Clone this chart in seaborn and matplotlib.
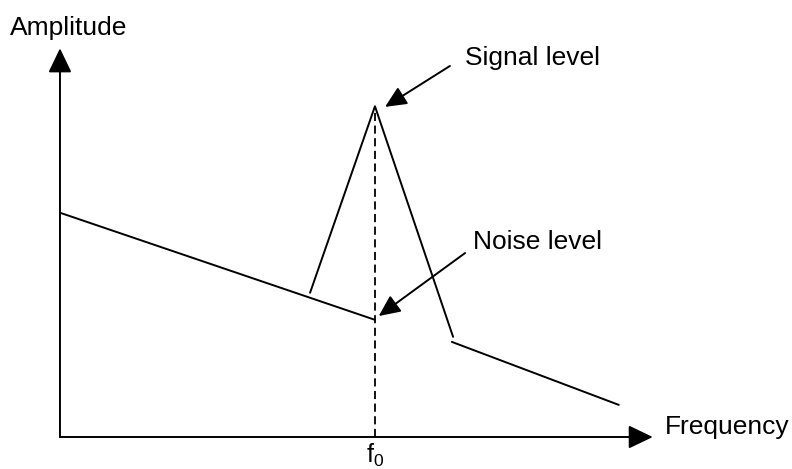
import matplotlib
matplotlib.use("Agg")
import matplotlib.pyplot as plt
import seaborn as sns
import pandas as pd

# spectrum sketch, values (arbitrary units)
noise_left_freq = [0.0, 5.0]
noise_left_amp = [3.56, 1.86]
peak_freq = [3.97, 5.0, 6.24]
peak_amp = [2.29, 5.25, 1.59]
noise_right_freq = [6.22, 8.87]
noise_right_amp = [1.51, 0.51]

f0 = 5.0
signal_level = 5.25
noise_level = 1.86
freq_axis_end = 9.41
amp_axis_end = 6.17

labels = {"x": "Frequency", "y": "Amplitude", "signal": "Signal level", "noise": "Noise level"}

rows = []
for name, fs, amps in [("noise_left", noise_left_freq, noise_left_amp),
                       ("peak", peak_freq, peak_amp),
                       ("noise_right", noise_right_freq, noise_right_amp)]:
    for f, a in zip(fs, amps):
        rows.append({"segment": name, "freq": f, "amp": a})
df = pd.DataFrame(rows)

sns.set_style("white")
plt.rcParams['font.family'] = ['Liberation Sans', 'DejaVu Sans']
plt.rcParams['text.color'] = 'black'
plt.rcParams['mathtext.fontset'] = 'custom'
plt.rcParams['mathtext.rm'] = 'Liberation Sans'

fig = plt.figure(figsize=(7.92, 4.69), dpi=100)
ax = fig.add_axes([0, 0, 1, 1])
ax.set_xlim(-0.952, 11.62)
ax.set_ylim(-0.508, 6.937)
ax.axis('off')

sns.lineplot(data=df, x="freq", y="amp", units="segment", estimator=None, sort=False,
             color="black", lw=1.4, ax=ax, legend=False)

# dashed marker at f0
ax.plot([f0, f0], [0, signal_level], color="black", lw=1.3, linestyle=(0, (4.5, 2.5)))

# axes with arrow heads
axis_arrow = dict(arrowstyle="-|>,head_length=0.75,head_width=0.36", color="black",
                  lw=1.4, mutation_scale=20, shrinkA=0, shrinkB=0)
ax.annotate("", xy=(freq_axis_end, 0), xytext=(0, 0), arrowprops=axis_arrow)
ax.annotate("", xy=(0, amp_axis_end), xytext=(0, 0), arrowprops=axis_arrow)

fs = 19
ax.text(-0.79, 6.49, labels["y"], fontsize=fs, ha="left", va="center", color="black")
ax.text(9.60, 0.16, labels["x"], fontsize=fs, ha="left", va="center", color="black")
ax.text(f0, -0.07, r"$\mathregular{f_0}$", fontsize=18, ha="center", va="top", color="black")

pointer = dict(arrowstyle="-|>,head_length=0.65,head_width=0.3", color="black",
               lw=1.4, mutation_scale=20, shrinkA=0, shrinkB=0)
ax.annotate("", xy=(5.16, 5.24), xytext=(6.19, 5.89), arrowprops=pointer)
ax.text(6.43, 6.02, labels["signal"], fontsize=fs, ha="left", va="center", color="black")
ax.annotate("", xy=(5.06, 1.92), xytext=(6.43, 2.92), arrowprops=pointer)
ax.text(6.56, 3.10, labels["noise"], fontsize=fs, ha="left", va="center", color="black")

fig.savefig("out.png", dpi=100)
